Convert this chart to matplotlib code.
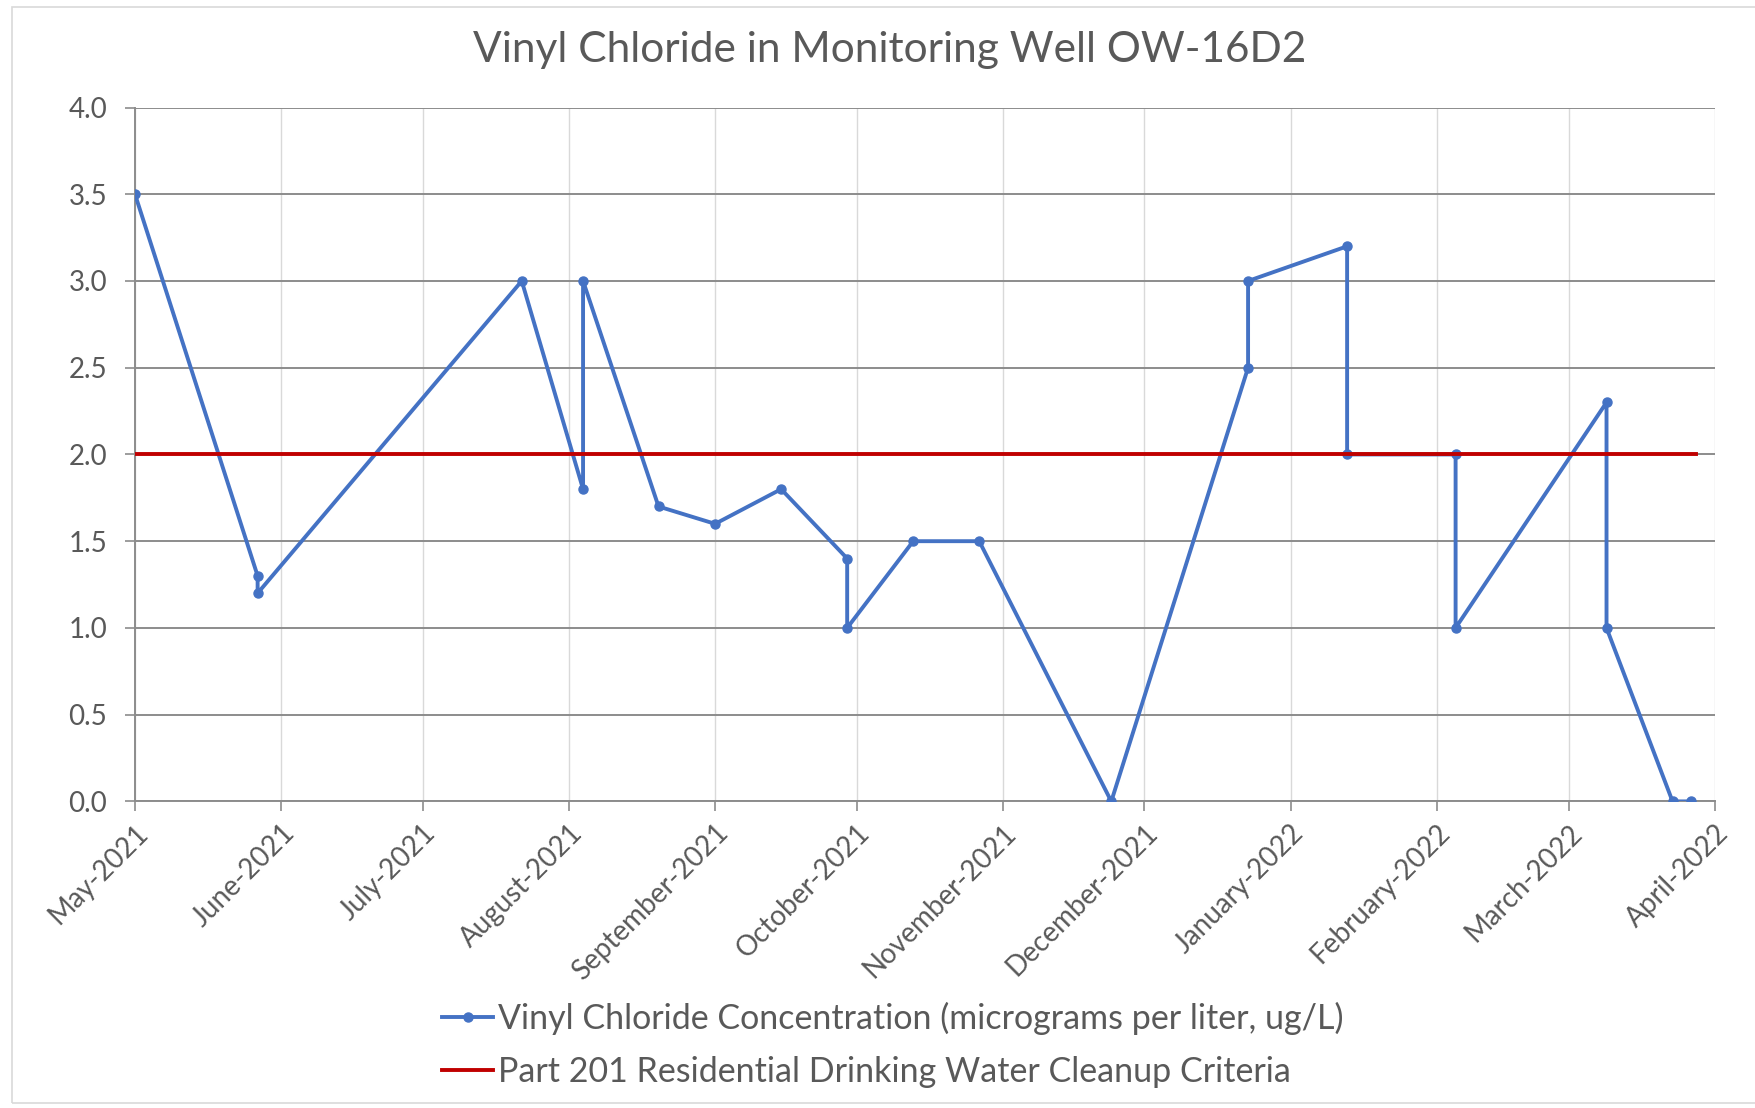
import matplotlib
matplotlib.use("Agg")
import matplotlib.pyplot as plt
import matplotlib.dates as mdates
from matplotlib.patches import Rectangle
import pandas as pd

plt.rcParams['font.family'] = ['Lato', 'DejaVu Sans']

title = "Vinyl Chloride in Monitoring Well OW-16D2"
series_name = "Vinyl Chloride Concentration (micrograms per liter, ug/L)"
criteria_name = "Part 201 Residential Drinking Water Cleanup Criteria"

sample_dates = ["2021-05-01", "2021-05-27", "2021-05-27", "2021-07-22", "2021-08-04",
                "2021-08-04", "2021-08-20", "2021-09-01", "2021-09-15", "2021-09-29",
                "2021-09-29", "2021-10-13", "2021-10-27", "2021-11-24", "2021-12-23",
                "2021-12-23", "2022-01-13", "2022-01-13", "2022-02-05", "2022-02-05",
                "2022-03-09", "2022-03-09", "2022-03-23", "2022-03-27"]
concentration = [3.5, 1.3, 1.2, 3.0, 1.8, 3.0, 1.7, 1.6, 1.8, 1.4,
                 1.0, 1.5, 1.5, 0.0, 2.5, 3.0, 3.2, 2.0, 2.0, 1.0,
                 2.3, 1.0, 0.0, 0.0]

criteria_dates = ["2021-05-01", "2022-03-28"]
criteria_values = [2.0, 2.0]

month_ticks = ["2021-05-01", "2021-06-01", "2021-07-01", "2021-08-01", "2021-09-01",
               "2021-10-01", "2021-11-01", "2021-12-01", "2022-01-01", "2022-02-01",
               "2022-03-01", "2022-04-01"]
month_labels = ["May-2021", "June-2021", "July-2021", "August-2021", "September-2021",
                "October-2021", "November-2021", "December-2021", "January-2022",
                "February-2022", "March-2022", "April-2022"]
y_ticks = [0.0, 0.5, 1.0, 1.5, 2.0, 2.5, 3.0, 3.5, 4.0]
y_labels = ["0.0", "0.5", "1.0", "1.5", "2.0", "2.5", "3.0", "3.5", "4.0"]

W, H = 1755, 1108
fig = plt.figure(figsize=(W / 100, H / 100), dpi=100)
fig.patches.append(Rectangle((12 / W, 5 / H), 1.0, 1 - 12 / H, transform=fig.transFigure,
                             fill=False, edgecolor="#D9D9D9", linewidth=1.2))

left, right, top, bottom = 135 / W, 1715 / W, 107.5 / H, 801.4 / H
ax = fig.add_axes([left, 1 - bottom, right - left, bottom - top])

x = pd.to_datetime(sample_dates)
xc = pd.to_datetime(criteria_dates)
xt = pd.to_datetime(month_ticks)

ax.plot(x, concentration, color="#4472C4", linewidth=2.8, marker="o", markersize=6.5,
        label=series_name, zorder=3)
ax.plot(xc, criteria_values, color="#C00000", linewidth=2.8, label=criteria_name, zorder=4)

ax.set_xlim(xt[0], xt[-1])
ax.set_ylim(0, 4.0)
ax.set_xticks(xt)
ax.set_xticklabels(month_labels, rotation=45, ha="right", rotation_mode="anchor")
ax.set_yticks(y_ticks)
ax.set_yticklabels(y_labels)

ax.grid(axis="x", color="#D9D9D9", linewidth=1.0, zorder=0)
ax.grid(axis="y", color="#8C8C8C", linewidth=1.4, zorder=0)
for s in ["top", "right"]:
    ax.spines[s].set_visible(False)
ax.spines["left"].set_color("#8C8C8C")
ax.spines["left"].set_linewidth(1.4)
ax.spines["bottom"].set_color("#8C8C8C")
ax.spines["bottom"].set_linewidth(1.4)

ax.tick_params(axis="y", length=7, width=1.2, color="#8C8C8C", pad=13,
               labelsize=20, labelcolor="#595959")
ax.tick_params(axis="x", length=7, width=1.2, color="#8C8C8C", pad=6,
               labelsize=20, labelcolor="#595959")

fig.text(890 / W, 1 - 50 / H, title, ha="center", va="center", fontsize=30.5, color="#595959")

handles, labels = ax.get_legend_handles_labels()
fig.legend(handles, labels, loc="upper left", bbox_to_anchor=(442 / W, 1 - 1002 / H),
           frameon=False, fontsize=24.5, labelcolor="#595959", handlelength=1.5,
           handletextpad=0.15, labelspacing=0.62, borderpad=0, borderaxespad=0)

fig.savefig("out.png", dpi=100)
